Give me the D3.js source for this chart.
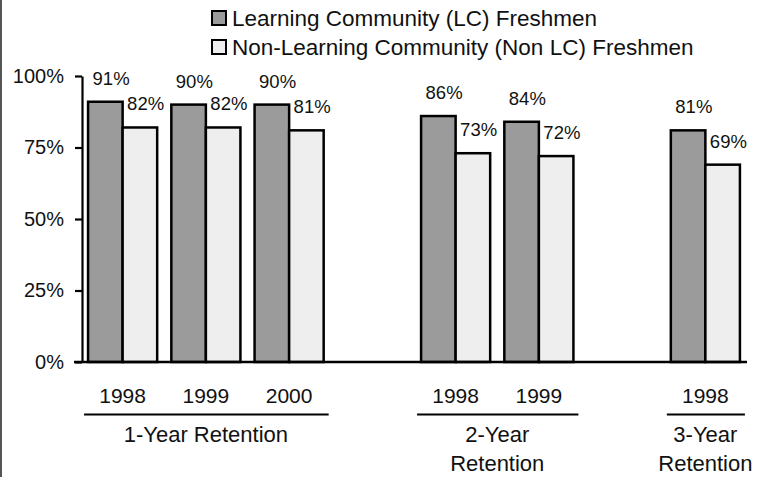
<!DOCTYPE html>
<html>
<head>
<meta charset="utf-8">
<script src="https://cdn.jsdelivr.net/npm/d3@7/dist/d3.min.js"></script>
<style>
  html, body { margin: 0; padding: 0; background: #fff; }
  svg { display: block; }
  text { font-family: "Liberation Sans", Arial, Helvetica, sans-serif; fill: #111; }
</style>
</head>
<body>
<svg id="chart" width="763" height="477"></svg>
<script>
// ---- data ----
const slotKeys = ["1Y 1998", "1Y 1999", "1Y 2000", "spacer1", "2Y 1998", "2Y 1999", "spacer2", "3Y 1998"];
const barSlots = ["1Y 1998", "1Y 1999", "1Y 2000", "2Y 1998", "2Y 1999", "3Y 1998"];
const yearLabels = ["1998", "1999", "2000", "1998", "1999", "1998"];
const lcValues = [91, 90, 90, 86, 84, 81];
const nonLcValues = [82, 82, 81, 73, 72, 69];
const seriesNames = ["Learning Community (LC) Freshmen", "Non-Learning Community (Non LC) Freshmen"];
const groupLabels = [["1-Year Retention"], ["2-Year", "Retention"], ["3-Year", "Retention"]];
const groupFirstSlot = ["1Y 1998", "2Y 1998", "3Y 1998"];
const groupLastSlot = ["1Y 2000", "2Y 1999", "3Y 1998"];
const yTicks = [0, 25, 50, 75, 100];

// ---- styles ----
const fills = ["#9b9b9b", "#eeeeee"];

const svg = d3.select("#chart");

// left border line
svg.append("line").attr("x1", 1).attr("x2", 1).attr("y1", 0).attr("y2", 477)
  .attr("stroke", "#555").attr("stroke-width", 2);

const x0 = d3.scaleBand().domain(slotKeys).range([81, 747]).paddingInner(0.17).paddingOuter(0.085);
const x1 = d3.scaleBand().domain([0, 1]).range([0, x0.bandwidth()]);
const y = d3.scaleLinear().domain([0, 100]).range([362, 76]);

// bars
const rows = barSlots.map((s, i) => ({ slot: s, vals: [lcValues[i], nonLcValues[i]], year: yearLabels[i] }));
const g = svg.append("g");
const grp = g.selectAll("g.slot").data(rows).enter().append("g")
  .attr("transform", d => `translate(${x0(d.slot)},0)`);
grp.selectAll("rect").data(d => d.vals.map((v, k) => ({ v, k }))).enter().append("rect")
  .attr("x", d => x1(d.k))
  .attr("y", d => y(d.v))
  .attr("width", x1.bandwidth())
  .attr("height", d => y(0) - y(d.v))
  .attr("fill", d => fills[d.k])
  .attr("stroke", "#000")
  .attr("stroke-width", 2.5);
grp.selectAll("text.val").data(d => d.vals.map((v, k) => ({ v, k }))).enter().append("text")
  .attr("class", "val")
  .attr("x", d => x1(d.k) + 4.5)
  .attr("y", d => y(d.v) - 17)
  .attr("font-size", 18.5)
  .text(d => d.v + "%");

// y axis
const yAxis = d3.axisLeft(y).tickValues(yTicks).tickSize(7).tickSizeOuter(0).tickPadding(11)
  .tickFormat(d => d + "%");
const ya = svg.append("g").attr("transform", "translate(82,0)").call(yAxis);
ya.select(".domain").attr("stroke", "#000").attr("stroke-width", 2.2);
ya.selectAll(".tick line").attr("stroke", "#000").attr("stroke-width", 2.2);
ya.selectAll(".tick text").attr("font-size", 20).attr("fill", "#111")
  .attr("font-family", "Liberation Sans, Arial, sans-serif");

// baseline
svg.append("line").attr("x1", 74).attr("x2", x0.range()[1]).attr("y1", y(0)).attr("y2", y(0))
  .attr("stroke", "#000").attr("stroke-width", 2.5);

// year labels
svg.selectAll("text.year").data(rows).enter().append("text")
  .attr("class", "year")
  .attr("x", d => x0(d.slot) + x0.bandwidth() / 2)
  .attr("y", 403)
  .attr("text-anchor", "middle")
  .attr("font-size", 21)
  .text(d => d.year);

// group lines and labels
groupLabels.forEach((lines, i) => {
  const a = x0(groupFirstSlot[i]);
  const b = x0(groupLastSlot[i]) + x0.bandwidth();
  svg.append("line").attr("x1", a - 4).attr("x2", b + 5).attr("y1", 414.5).attr("y2", 414.5)
    .attr("stroke", "#000").attr("stroke-width", 2);
  const cx = (a + b) / 2;
  lines.forEach((t, j) => {
    svg.append("text").attr("x", cx).attr("y", 442 + j * 29)
      .attr("text-anchor", "middle").attr("font-size", 22).text(t);
  });
});

// legend
const lg = svg.append("g");
seriesNames.forEach((name, i) => {
  const yy = 18 + i * 29;
  lg.append("rect").attr("x", 212).attr("y", yy - 7).attr("width", 14).attr("height", 14)
    .attr("fill", fills[i]).attr("stroke", "#000").attr("stroke-width", 2);
  lg.append("text").attr("x", 232).attr("y", yy + 8).attr("font-size", 22.5).text(name);
});
</script>
</body>
</html>
